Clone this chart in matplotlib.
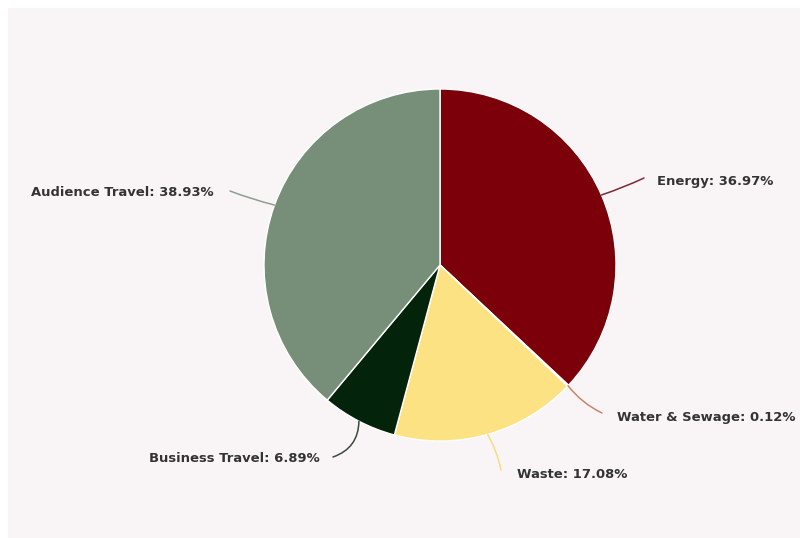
import numpy as np
import matplotlib
matplotlib.use("Agg")
import matplotlib.pyplot as plt
from matplotlib.patches import Rectangle

labels = ["Energy", "Water & Sewage", "Waste", "Business Travel", "Audience Travel"]
values = [36.97, 0.12, 17.08, 6.89, 38.93]
colors = ["#7b0009", "#e0876a", "#fde283", "#03230a", "#778e78"]
line_colors = ["#7b2a35", "#c9856b", "#f5dc86", "#3a4a3e", "#8e9e90"]

W, H = 800, 538
fig = plt.figure(figsize=(W / 100, H / 100), dpi=100, facecolor="white")
fig.patches.append(Rectangle((8 / W, 0), 1 - 8 / W, (H - 8) / H, transform=fig.transFigure,
                             facecolor="#f9f5f6", edgecolor="none", zorder=-10))
ax = fig.add_axes([0, 0, 1, 1])
ax.set_facecolor("none")
ax.set_zorder(5)

cx, cy, r = 440, H - 265, 176
wedges, _ = ax.pie(values, colors=colors, startangle=90, counterclock=False,
                   center=(cx, cy), radius=r,
                   wedgeprops=dict(edgecolor="white", linewidth=1.0))
ax.set_xlim(0, W)
ax.set_ylim(0, H)
ax.set_aspect("auto")
ax.axis("off")

# layout: connector end point, label anchor, alignment, curvature (pixel coords, y from top)
layout = [
    ((644, 178), (657, 182), "left", 0.03),
    ((602, 413), (617, 417), "left", 0.12),
    ((501, 470), (517, 475), "left", -0.08),
    ((333, 457), (320, 459), "right", -0.35),
    ((230, 191), (214, 193), "right", -0.03),
]

for w, lab, val, lc, (lend, lpos, ha, rad) in zip(wedges, labels, values, line_colors, layout):
    ang = np.deg2rad((w.theta1 + w.theta2) / 2)
    ex, ey = cx + r * np.cos(ang), cy + r * np.sin(ang)
    ax.annotate("", xy=(lend[0], H - lend[1]), xytext=(ex, ey),
                arrowprops=dict(arrowstyle="-", color=lc, lw=1.1, shrinkA=0, shrinkB=0,
                                connectionstyle=f"arc3,rad={rad}"))
    ax.text(lpos[0], H - lpos[1], f"{lab}: {val:.2f}%", ha=ha, va="center",
            fontsize=9.45, fontweight="bold", color="#333333", family="DejaVu Sans")

fig.savefig("out.png", dpi=100, facecolor="white")
